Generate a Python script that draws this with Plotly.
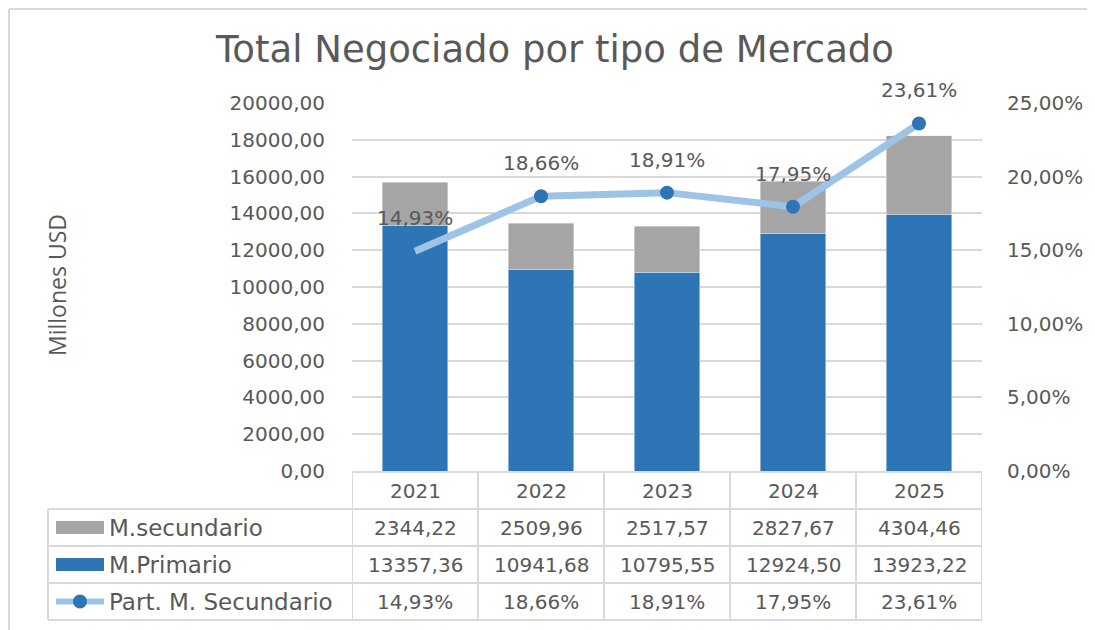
import plotly.graph_objects as go

# ---- data ----
years = ["2021", "2022", "2023", "2024", "2025"]
primario = [13357.36, 10941.68, 10795.55, 12924.50, 13923.22]
secundario = [2344.22, 2509.96, 2517.57, 2827.67, 4304.46]
part_sec = [0.1493, 0.1866, 0.1891, 0.1795, 0.2361]
marker_sizes = [0, 14, 14, 14, 14]

series_names = ["M.secundario", "M.Primario", "Part. M. Secundario"]
left_ticks = [0, 2000, 4000, 6000, 8000, 10000, 12000, 14000, 16000, 18000, 20000]
right_ticks = [0, 0.05, 0.10, 0.15, 0.20, 0.25]

# ---- style ----
OFF = 8  # default page body margin
W, H = 1095 - OFF, 630 - OFF
PL, PR, PT, PB = 352, 982, 103, 471  # target plot area (screen px)
C_PRI = "#2E75B6"
C_SEC = "#A5A5A5"
C_LINE = "#9DC3E6"
C_TXT = "#595959"
C_GRID = "#D9D9D9"
FONT = "DejaVu Sans"
FS = 20


def px(x):
    return (x - PL) / (PR - PL)


def py(y):
    return (PB - y) / (PB - PT)


def fmt_num(v):
    return f"{v:.2f}".replace(".", ",")


def fmt_pct(v):
    return f"{v*100:.2f}".replace(".", ",") + "%"


idx = list(range(len(years)))

fig = go.Figure()
fig.add_trace(go.Bar(x=years, y=primario, name=series_names[1], marker_color=C_PRI,
                     width=0.52, yaxis="y"))
fig.add_trace(go.Bar(x=years, y=secundario, name=series_names[0], marker_color=C_SEC,
                     width=0.52, yaxis="y"))
fig.add_trace(go.Scatter(x=years, y=part_sec, name=series_names[2], mode="lines+markers",
                         line=dict(color=C_LINE, width=7),
                         marker=dict(color=C_PRI, size=marker_sizes, opacity=1,
                                     line=dict(width=0)),
                         yaxis="y2"))

annotations = []
# data labels for the line
for i, v in zip(idx, part_sec):
    annotations.append(dict(x=i, y=v, xref="x", yref="y2", text=fmt_pct(v), showarrow=False,
                            xanchor="center", yanchor="middle",
                            yshift=33, font=dict(family=FONT, size=FS, color=C_TXT)))

# y axis title
annotations.append(dict(x=px(57), y=py(285), xref="paper", yref="paper", text="Millones USD",
                        textangle=-90, showarrow=False, xanchor="center", yanchor="middle",
                        font=dict(family="Open Sans", size=23, color=C_TXT)))

# ---- data table ----
row_tops = [472, 509, 546, 583, 620]
row_centers = [(row_tops[i] + row_tops[i + 1]) / 2 for i in range(4)]
shapes = []
line_style = dict(color=C_GRID, width=2)
# horizontal lines
shapes.append(dict(type="line", xref="x", yref="paper", x0=-0.5, x1=4.5,
                   y0=py(row_tops[0]), y1=py(row_tops[0]), line=line_style))
for yy in row_tops[1:]:
    shapes.append(dict(type="line", xref="paper", yref="paper", x0=px(48), x1=1,
                       y0=py(yy), y1=py(yy), line=line_style))
# vertical lines
for i in range(len(years) + 1):
    shapes.append(dict(type="line", xref="x", yref="paper", x0=i - 0.5, x1=i - 0.5,
                       y0=py(row_tops[0]), y1=py(row_tops[-1]), line=line_style))
shapes.append(dict(type="line", xref="paper", yref="paper", x0=px(48), x1=px(48),
                   y0=py(row_tops[1]), y1=py(row_tops[-1]), line=line_style))

tfont = dict(family=FONT, size=FS, color=C_TXT)
lfont = dict(family=FONT, size=23, color=C_TXT)
for i, yr in zip(idx, years):
    annotations.append(dict(x=i, y=py(row_centers[0]), xref="x", yref="paper", text=yr,
                            xanchor="center", yanchor="middle", showarrow=False, font=tfont))
rows = [[fmt_num(v) for v in secundario], [fmt_num(v) for v in primario],
        [fmt_pct(v) for v in part_sec]]
for r, vals in enumerate(rows):
    for i, t in zip(idx, vals):
        annotations.append(dict(x=i, y=py(row_centers[r + 1]), xref="x", yref="paper", text=t,
                                xanchor="center", yanchor="middle", showarrow=False, font=tfont))
    annotations.append(dict(x=px(107), y=py(row_centers[r + 1]), xref="paper", yref="paper",
                            text=series_names[r], xanchor="left", yanchor="middle",
                            showarrow=False, font=lfont))

# legend keys
key_colors = [C_SEC, C_PRI]
for r in range(2):
    c = row_centers[r + 1]
    shapes.append(dict(type="rect", xref="paper", yref="paper", x0=px(56), x1=px(104),
                       y0=py(c + 6.5), y1=py(c - 6.5), fillcolor=key_colors[r],
                       line=dict(width=0)))
c = row_centers[3]
shapes.append(dict(type="line", xref="paper", yref="paper", x0=px(56), x1=px(104),
                   y0=py(c), y1=py(c), line=dict(color=C_LINE, width=6)))
shapes.append(dict(type="circle", xref="paper", yref="paper", x0=px(73), x1=px(87),
                   y0=py(c + 7), y1=py(c - 7), fillcolor=C_PRI, line=dict(width=0)))

# chart border (as close to the top-left edge as the page allows)
shapes.append(dict(type="line", xref="paper", yref="paper", x0=px(OFF + 1), x1=px(1095),
                   y0=py(OFF + 1), y1=py(OFF + 1), line=line_style))
shapes.append(dict(type="line", xref="paper", yref="paper", x0=px(OFF + 1), x1=px(OFF + 1),
                   y0=py(OFF + 1), y1=py(640), line=line_style))

fig.update_layout(
    width=W, height=H,
    margin=dict(l=PL - OFF, r=W - (PR - OFF), t=PT - OFF, b=H - (PB - OFF)),
    paper_bgcolor="white", plot_bgcolor="white",
    barmode="stack", bargap=0.48,
    showlegend=False,
    separators=", ",
    title=dict(text="Total Negociado por tipo de Mercado", x=(555 - OFF) / W, xanchor="center",
               y=1 - (49 - OFF) / H, yanchor="middle", xref="container", yref="container",
               font=dict(family=FONT, size=37, color=C_TXT)),
    xaxis=dict(type="category", range=[-0.5, 4.5], showticklabels=False, showgrid=False,
               showline=False, zeroline=False),
    yaxis=dict(range=[0, 20000], tickvals=left_ticks, tickformat=".2f",
               showgrid=True, gridcolor=C_GRID, gridwidth=1.5, zeroline=False,
               ticks="outside", ticklen=22, tickcolor="rgba(0,0,0,0)",
               tickfont=dict(family=FONT, size=FS, color=C_TXT)),
    yaxis2=dict(range=[0, 0.25], tickvals=right_ticks, tickformat=".2%", overlaying="y",
                side="right", showgrid=False, zeroline=False,
                ticks="outside", ticklen=20, tickcolor="rgba(0,0,0,0)",
                tickfont=dict(family=FONT, size=FS, color=C_TXT)),
    annotations=annotations,
    shapes=shapes,
    font=dict(family=FONT, color=C_TXT),
)

fig.write_html("out.html")
